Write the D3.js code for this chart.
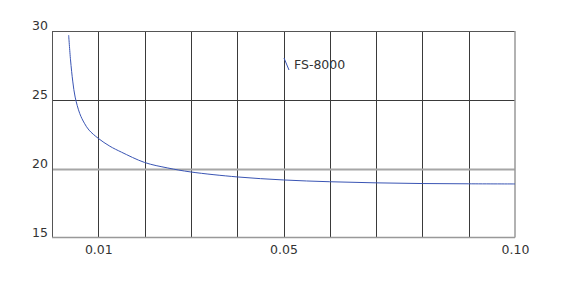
<!DOCTYPE html>
<html>
<head>
  <meta charset="utf-8">
  <title>FS-8000</title>
  <script src="https://d3js.org/d3.v7.min.js"></script>
  <style>
    body { margin: 0; background: #fff; }
    text { font-family: "DejaVu Sans", Verdana, sans-serif; font-size: 12.5px; fill: #333; }
  </style>
</head>
<body>
  <div id="chart"></div>
  <script>
    // data
    var xValues = [0.0036, 0.004, 0.0045, 0.005, 0.006, 0.007, 0.008, 0.01, 0.0125, 0.015, 0.02, 0.025, 0.03, 0.04, 0.05, 0.06, 0.07, 0.08, 0.09, 0.10];
    var yValues = [29.7, 27.9, 26.3, 25.2, 24.0, 23.3, 22.8, 22.2, 21.63, 21.2, 20.45, 20.05, 19.76, 19.4, 19.18, 19.05, 18.97, 18.92, 18.9, 18.89];
    var xTicks = d3.range(0, 11).map(function (i) { return i / 100; });
    var xLabels = [0.01, 0.05, 0.10];
    var yTicks = [15, 20, 25, 30];
    var seriesName = "FS-8000";

    var margin = { top: 31, right: 60, bottom: 44.5, left: 52 };
    var width = 575 - margin.left - margin.right;
    var height = 282 - margin.top - margin.bottom;

    var svg = d3.select("#chart")
      .append("svg")
      .attr("width", 575)
      .attr("height", 282)
      .append("g")
      .attr("transform", "translate(" + margin.left + "," + margin.top + ")");

    var x = d3.scaleLinear().domain([0, 0.10]).range([0, width]);
    var y = d3.scaleLinear().domain([15, 30]).range([height, 0]);

    // vertical grid
    svg.append("g")
      .attr("class", "x-grid")
      .selectAll("line")
      .data(xTicks.slice(1, -1))
      .join("line")
      .attr("x1", function (d) { return Math.round(x(d)) + 0.5; })
      .attr("x2", function (d) { return Math.round(x(d)) + 0.5; })
      .attr("y1", 0)
      .attr("y2", height)
      .attr("stroke", "#3a3a3a")
      .attr("stroke-width", 1);

    // horizontal grid (20 drawn lighter and thicker)
    svg.append("g")
      .attr("class", "y-grid")
      .selectAll("line")
      .data([20, 25])
      .join("line")
      .attr("x1", 0)
      .attr("x2", width)
      .attr("y1", function (d) { return Math.round(y(d)) + 0.5; })
      .attr("y2", function (d) { return Math.round(y(d)) + 0.5; })
      .attr("stroke", function (d) { return d === 20 ? "#a6a6a6" : "#3a3a3a"; })
      .attr("stroke-width", function (d) { return d === 20 ? 2 : 1; });

    // frame
    svg.append("line").attr("x1", 0).attr("x2", width).attr("y1", 0.5).attr("y2", 0.5)
      .attr("stroke", "#555");
    svg.append("line").attr("x1", 0.5).attr("x2", 0.5).attr("y1", 0).attr("y2", height)
      .attr("stroke", "#555");
    svg.append("line").attr("x1", 0).attr("x2", width).attr("y1", height).attr("y2", height)
      .attr("stroke", "#999").attr("stroke-width", 1.5);
    svg.append("line").attr("x1", width).attr("x2", width).attr("y1", 0).attr("y2", height)
      .attr("stroke", "#999").attr("stroke-width", 1.5);

    // axes
    var xAxis = d3.axisBottom(x)
      .tickValues(xLabels)
      .tickSize(0)
      .tickPadding(8)
      .tickFormat(d3.format(".2f"));
    svg.append("g")
      .attr("class", "x-axis")
      .attr("transform", "translate(0," + height + ")")
      .call(xAxis)
      .call(function (g) { g.select(".domain").remove(); });

    var yAxis = d3.axisLeft(y)
      .tickValues(yTicks)
      .tickSize(0)
      .tickPadding(4);
    svg.append("g")
      .attr("class", "y-axis")
      .call(yAxis)
      .call(function (g) {
        g.select(".domain").remove();
        g.selectAll("text").attr("dy", "-0.1em");
      });

    svg.selectAll(".tick text")
      .style("font-family", "'DejaVu Sans', Verdana, sans-serif")
      .style("font-size", "12.5px")
      .attr("fill", "#333");

    // curve
    var points = xValues.map(function (d, i) { return [d, yValues[i]]; });
    var line = d3.line()
      .x(function (d) { return x(d[0]); })
      .y(function (d) { return y(d[1]); })
      .curve(d3.curveCatmullRom.alpha(0.5));

    svg.append("path")
      .datum(points)
      .attr("fill", "none")
      .attr("stroke", "#3a55b4")
      .attr("stroke-width", 1)
      .attr("d", line);

    // legend
    var legend = svg.append("g")
      .attr("transform", "translate(" + (x(0.05) + 0.5) + "," + 27 + ")");
    legend.append("line")
      .attr("x1", 0).attr("y1", 0)
      .attr("x2", 5).attr("y2", 12)
      .attr("stroke", "#3a55b4")
      .attr("stroke-width", 1);
    legend.append("text")
      .attr("x", 10)
      .attr("y", 10.5)
      .text(seriesName);
  </script>
</body>
</html>
